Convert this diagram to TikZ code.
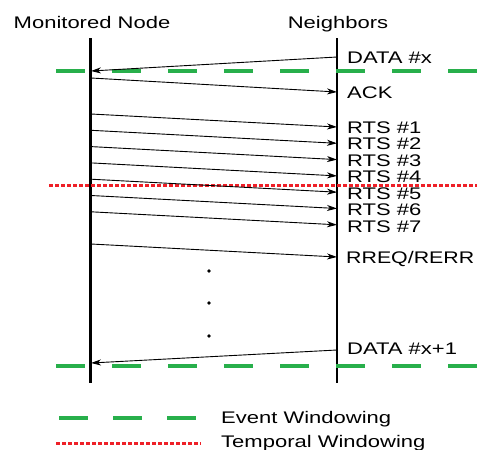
\documentclass[tikz,border=0pt]{standalone}
\usepackage{fontspec}
\setmainfont{Liberation Sans}
\usepackage{graphicx}
\usetikzlibrary{arrows.meta}

\definecolor{eventgreen}{RGB}{40,175,75}
\definecolor{tempred}{RGB}{238,32,40}
\newcommand{\widetext}[1]{\scalebox{1.31}[1]{#1}}

\begin{document}
\begin{tikzpicture}[x=1pt, y=-1pt,
    lifeline/.style={line width=2.2pt},
    msg/.style={-{Stealth[length=10pt, width=6pt, inset=3pt]}, line width=0.9pt},
    lbl/.style={anchor=base west, inner sep=0pt, font=\fontsize{16.8}{18}\selectfont},
    head/.style={anchor=base, inner sep=0pt, font=\fontsize{16.8}{18}\selectfont},
    eventwin/.style={eventgreen, line width=3.5pt, dash pattern=on 29pt off 27pt},
    tempwin/.style={tempred, line width=3pt, dash pattern=on 4pt off 2pt}]
                \useasboundingbox (0,0) rectangle (477,450);

                % headers and lifelines
                \node[head] (mon) at (92,28) {\widetext{Monitored Node}};
                \node[head] (nbr) at (338,28) {\widetext{Neighbors}};
                \coordinate (montop) at (90.5,38);
                \coordinate (monbot) at (90.5,383);
                \coordinate (nbrtop) at (337,38);
                \coordinate (nbrbot) at (337,383);
                \draw[lifeline] (montop) -- (monbot);
                \draw[lifeline] (nbrtop) -- (nbrbot);

                % windows
                \coordinate (ewa) at (56,71);
                \coordinate (ewb) at (477,71);
                \coordinate (ewc) at (56,366);
                \coordinate (ewd) at (477,366);
                \coordinate (twa) at (49,185);
                \coordinate (twb) at (477,185);
                \draw[eventwin] (ewa) -- (ewb);
                \draw[eventwin] (ewc) -- (ewd);
                \draw[tempwin] (twa) -- (twb);

                % messages
                \coordinate (dxs) at (337,57);
                \coordinate (dxe) at (91,71);
                \draw[msg] (dxs) -- (dxe);
                \node[lbl] (dx) at (347,63) {\widetext{DATA \#x}};

                \coordinate (acks) at (91,78);
                \coordinate (acke) at (337,92);
                \draw[msg] (acks) -- (acke);
                \node[lbl] (ack) at (347,98) {\widetext{ACK}};

                \foreach \i in {1,...,7} {
                    \coordinate (rts\i s) at (91,{114+16.3*(\i-1)});
                    \coordinate (rts\i e) at (337,{127+16.3*(\i-1)});
                    \draw[msg] (rts\i s) -- (rts\i e);
                    \node[lbl] (rts\i) at (347,{133+16.5*(\i-1)}) {\widetext{RTS \#\i}};
                }

                \coordinate (rrs) at (91,244);
                \coordinate (rre) at (337,257);
                \draw[msg] (rrs) -- (rre);
                \node[lbl] (rr) at (346,263) {\scalebox{1.27}[1]{RREQ/RERR}};

                \foreach \y [count=\k] in {271,303,336}
                    \fill (209,\y) circle (1.9pt) coordinate (dot\k);

                \coordinate (dys) at (337,350);
                \coordinate (dye) at (91,363);
                \draw[msg] (dys) -- (dye);
                \node[lbl] (dy) at (347,354) {\widetext{DATA \#x+1}};

                % legend
                \coordinate (lga) at (59,418);
                \coordinate (lgb) at (199,418);
                \coordinate (lgc) at (56,443);
                \coordinate (lgd) at (201,443);
                \draw[eventwin, dash pattern=on 29pt off 25pt] (lga) -- (lgb);
                \draw[tempwin] (lgc) -- (lgd);
                \node[lbl] (evt) at (221,423) {\widetext{Event Windowing}};
                \node[lbl] (tmp) at (221,447) {\widetext{Temporal Windowing}};

            \end{tikzpicture}
\end{document}
